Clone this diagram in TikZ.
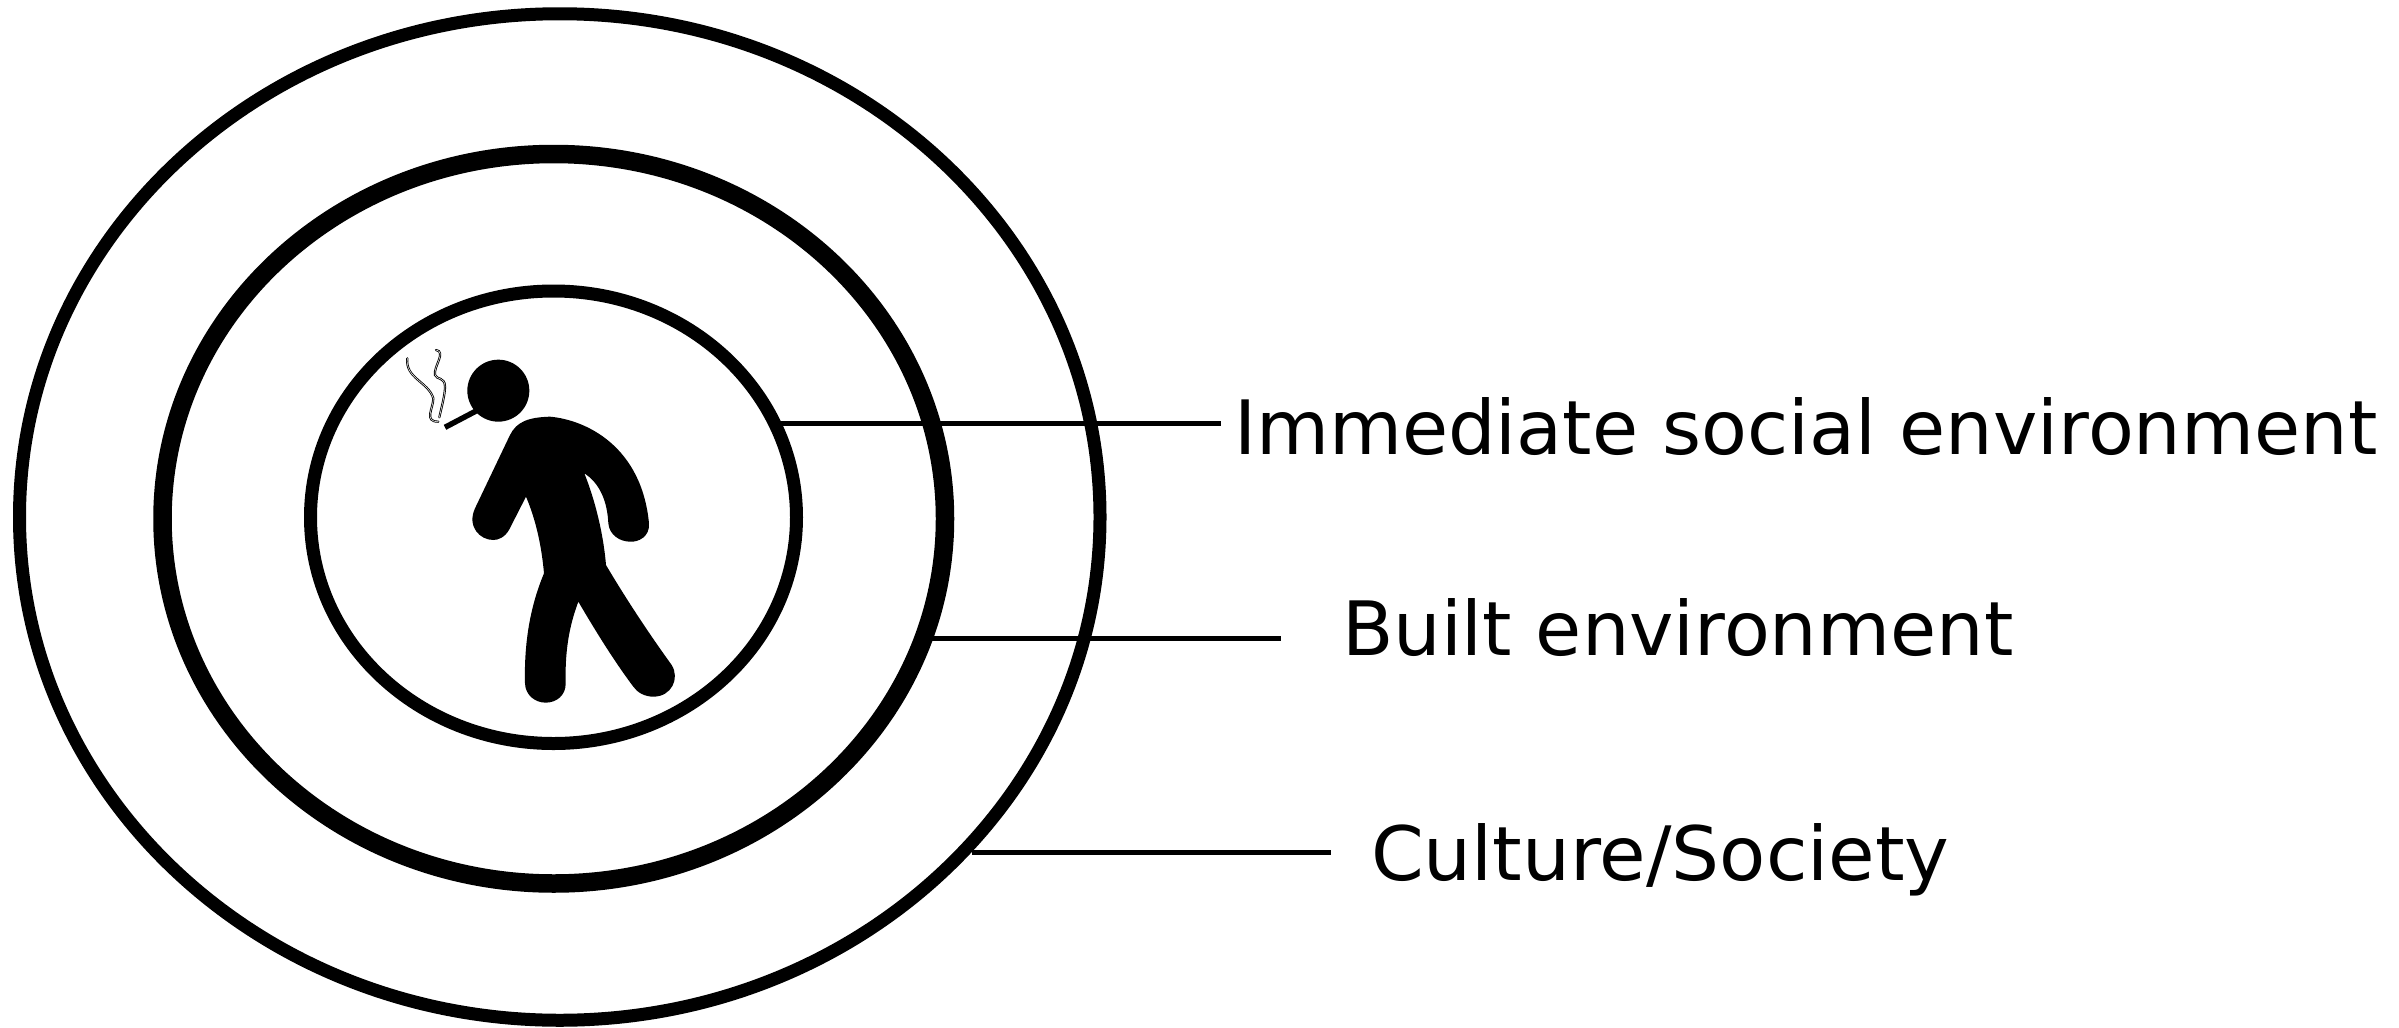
\documentclass[tikz,border=0pt]{standalone}
\usepackage{fontspec}
\setmainfont{DejaVu Sans}
\usetikzlibrary{shapes.geometric}
\tikzset{
  ring/.style={draw=black,shape=ellipse,inner sep=0pt,outer sep=0pt,fill=none},
  leader/.style={draw=black,line width=5pt},
  lab/.style={anchor=base west,inner sep=0pt,outer sep=0pt,font=\fontsize{75}{90}\selectfont,text=black},
  smoke/.style={draw=black,line width=2.2pt,line cap=round},
  smokein/.style={draw=white,line width=0.5pt,line cap=round}
}
\begin{document}
\begin{tikzpicture}[x=1pt,y=-1pt]
\useasboundingbox (0,0) rectangle (2399,1028);
\fill[white] (0,0) rectangle (2399,1028);
\node[ring,line width=13pt,minimum width=1080.5pt,minimum height=1006.5pt] (outer) at (559.75,517) {};
\node[ring,line width=18.5pt,minimum width=782.5pt,minimum height=729.5pt] (middle) at (553.75,518.75) {};
\node[ring,line width=13pt,minimum width=486pt,minimum height=452.5pt] (inner) at (553.5,517.25) {};
\node[lab] (l1) at (1234,454) {Immediate social environment};
\node[lab] (l2) at (1342,655) {Built environment};
\node[lab,xscale=1.008] (l3) at (1371,880) {Culture/Society};
\coordinate (a1) at (780,423); \coordinate (b1) at (1221,423);
\coordinate (a2) at (930,638); \coordinate (b2) at (1281,638);
\coordinate (a3) at (972,852); \coordinate (b3) at (1331,852);
\draw[leader] (a1) -- (b1);
\draw[leader] (a2) -- (b2);
\draw[leader] (a3) -- (b3);
\begin{scope}[shift={(400,320)},x=0.33333pt,y=-0.33333pt]
  \node[circle,fill=black,draw=none,minimum size=31pt*2,inner sep=0pt] (head) at (295,212) {};
  \coordinate (cigA) at (135,322); \coordinate (cigB) at (230,272);
  \draw[black,line width=5.5pt] (cigA) -- (cigB);
  \fill[black] (330,345) .. controls (350,305) and (385,292) .. (450,290)
    .. controls (560,300) and (725,380) .. (747,610)
    .. controls (750,650) and (715,667) .. (690,665)
    .. controls (660,665) and (628,645) .. (625,610)
    .. controls (622,545) and (600,490) .. (553,460)
    .. controls (585,540) and (610,640) .. (618,735)
    .. controls (680,840) and (750,945) .. (815,1035)
    .. controls (840,1075) and (815,1130) .. (760,1130)
    .. controls (735,1130) and (712,1118) .. (700,1100)
    .. controls (640,1020) and (585,930) .. (535,845)
    .. controls (505,925) and (495,1000) .. (497,1090)
    .. controls (498,1125) and (470,1148) .. (437,1148)
    .. controls (405,1148) and (376,1125) .. (375,1090)
    .. controls (372,970) and (390,860) .. (432,760)
    .. controls (425,680) and (408,600) .. (378,530)
    -- (328,628)
    .. controls (315,652) and (295,660) .. (280,660)
    .. controls (240,660) and (200,620) .. (225,565)
    -- cycle;
  \path (22,115) coordinate (s1a) (115,305) coordinate (s1b) (108,90) coordinate (s2a) (118,292) coordinate (s2b);
  \foreach \st in {smoke,smokein}{
    \draw[\st] (s1a) .. controls (15,175) and (85,185) .. (100,235)
      .. controls (100,265) and (70,305) .. (s1b);
    \draw[\st] (s2a) .. controls (140,95) and (100,140) .. (105,165)
      .. controls (110,180) and (135,170) .. (135,200)
      .. controls (135,225) and (125,260) .. (s2b);
  }
\end{scope}
\end{tikzpicture}
\end{document}
